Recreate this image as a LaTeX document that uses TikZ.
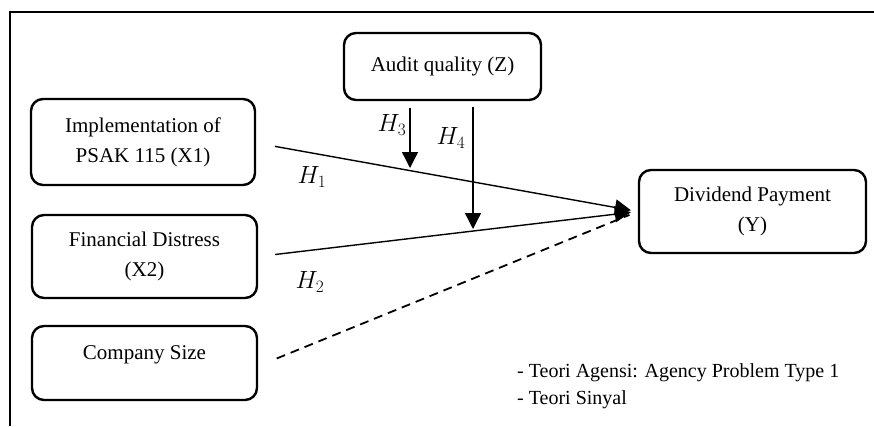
\documentclass[tikz,border=0pt]{standalone}
\usepackage{fontspec}
\setmainfont{Liberation Serif}
\usetikzlibrary{arrows.meta}
\tikzset{
  varbox/.style={draw, line width=2.4pt, rounded corners=12pt, align=center, inner sep=0pt},
  conn/.style={line width=1.4pt},
  tipconn/.style={line width=1.4pt, -{Triangle[length=16pt,width=16pt]}},
  hlab/.style={inner sep=0pt, font=\fontsize{25}{30}\selectfont},
  frameline/.style={line width=2pt}
}
\begin{document}
\begin{tikzpicture}[x=1pt,y=-1pt, font=\fontsize{21}{30}\selectfont]
\useasboundingbox (0,0) rectangle (874,426);
% frame
\draw[frameline] (9.5,426) -- (9.5,11.5) -- (874,11.5);
% boxes
\node[varbox, minimum width=224pt, minimum height=86pt] (x1) at (143,142) {Implementation of\\PSAK 115 (X1)};
\node[varbox, minimum width=225pt, minimum height=83pt] (x2) at (144.5,256.5) {Financial Distress\\(X2)};
\node[varbox, minimum width=225pt, minimum height=74pt] (cs) at (144.5,363) {};
\node[inner sep=0pt] (cst) at (144.5,355) {Company Size};
\node[varbox, minimum width=197pt, minimum height=67pt] (az) at (442.5,66.5) {Audit quality (Z)};
\node[varbox, minimum width=227pt, minimum height=83pt] (y) at (752.5,211.5) {Dividend Payment\\(Y)};
% main paths
\draw[tipconn, shorten <=19pt, shorten >=7pt] ([yshift=-1pt]x1.east) -- (y.west);
\draw[tipconn, shorten <=17pt, shorten >=7pt] (x2.east) -- (y.west);
\draw[conn, line width=1.8pt, dashed, dash pattern=on 9pt off 6pt, shorten <=20pt, shorten >=9pt] ([yshift=-3pt]cs.east) -- (y.west);
% moderation arrows
\coordinate (h3s) at (410,108);
\coordinate (h3e) at (410,168);
\coordinate (h4s) at (473,107);
\coordinate (h4e) at (473,229);
\draw[tipconn] (h3s) -- (h3e);
\draw[tipconn] (h4s) -- (h4e);
% labels
\node[hlab] (lh1) at (312,177) {$H_1$};
\node[hlab] (lh2) at (310,282) {$H_2$};
\node[hlab] (lh3) at (392,125) {$H_3$};
\node[hlab] (lh4) at (451,138) {$H_4$};
% legend
\node[inner sep=0pt, anchor=west, align=left, font=\fontsize{20}{27}\selectfont] (leg) at (517,386.5) {- Teori Agensi: Agency Problem Type 1\\- Teori Sinyal};
\end{tikzpicture}
\end{document}
